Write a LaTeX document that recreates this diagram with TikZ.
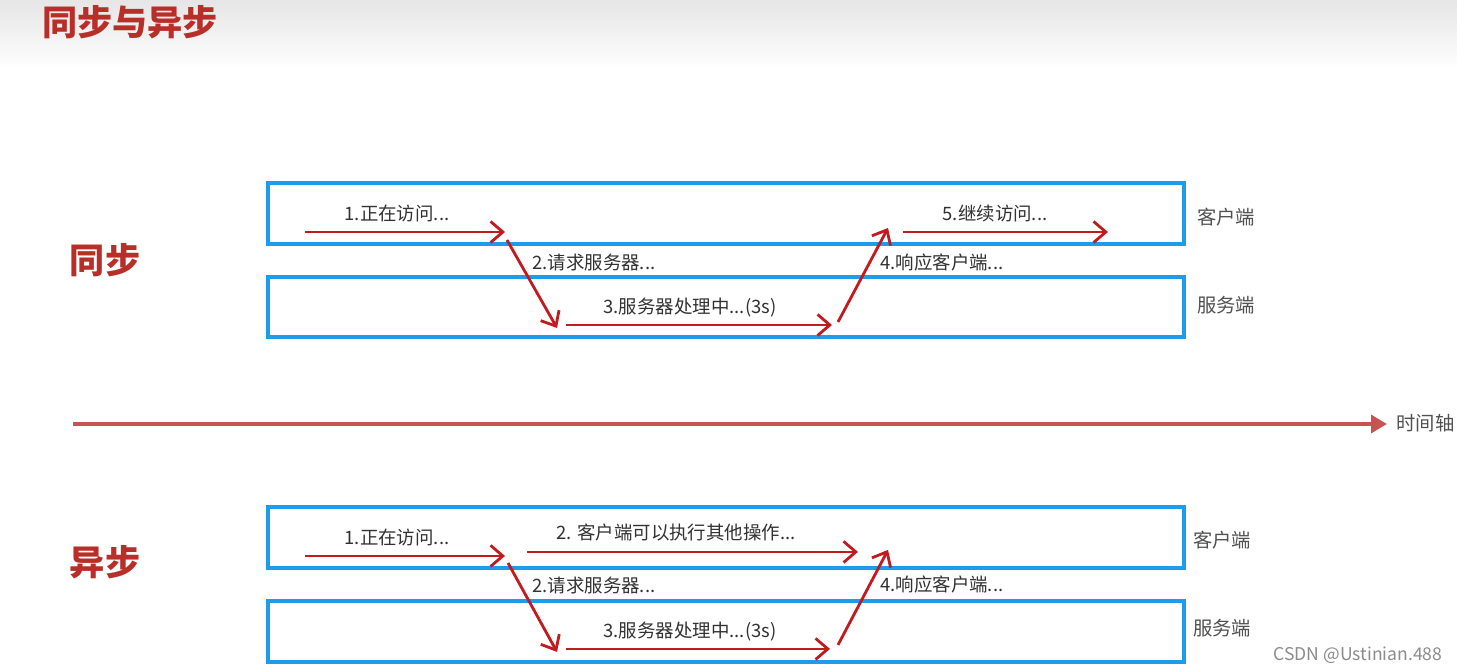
\documentclass[tikz,border=0pt]{standalone}
\usepackage{fontspec}
\setmainfont{Noto Sans CJK SC}
\usetikzlibrary{arrows.meta}

\definecolor{laneblue}{RGB}{28,156,234}
\definecolor{stepred}{RGB}{192,28,32}
\definecolor{axisred}{RGB}{200,84,82}
\definecolor{titlered}{RGB}{184,46,40}
\definecolor{textgray}{RGB}{50,50,50}

\tikzset{
  lane/.style={draw=laneblue, line width=2pt},
  flow/.style={draw=stepred, line width=1.6pt,
    -{Straight Barb[length=7pt,width=12pt,line width=1.6pt]}},
  lbl/.style={text=textgray, inner sep=0pt,
    font=\fontsize{10.5}{12}\selectfont},
  side/.style={text=textgray!85, inner sep=0pt,
    font=\fontsize{11}{13}\selectfont},
  big/.style={text=titlered, inner sep=0pt,
    font=\fontsize{20}{24}\selectfont\bfseries}
}

\begin{document}
\begin{tikzpicture}[x=0.02cm,y=-0.02cm]

\useasboundingbox (0,0) rectangle (1457,672);
\fill[white] (0,0) rectangle (1457,672);
\shade[top color=black!10, bottom color=white] (0,0) rectangle (1457,70);

% Titre
\node[big] (title) at (130,22) {同步与异步};

% Axe du temps
\coordinate (t0) at (73,424);
\coordinate (t1) at (1387,424);
\draw[draw=axisred, line width=2.4pt,
  -{Triangle[length=9pt,width=10pt]}] (t0) -- (t1);
\node[side, anchor=west] (taxis) at (1396,423) {时间轴};

% Synchrone
\node[big] (sync) at (105,260) {同步};

\draw[lane] (268,183) rectangle (1184,244);
\draw[lane] (268,277) rectangle (1184,337);
\node[side] (sclient) at (1226,217) {客户端};
\node[side] (sserver) at (1226,305) {服务端};

\coordinate (s1a) at (305,232);
\coordinate (s1b) at (505,232);
\coordinate (s2a) at (507,240);
\coordinate (s2b) at (557,328);
\coordinate (s3a) at (566,325);
\coordinate (s3b) at (832,325);
\coordinate (s4a) at (838,322);
\coordinate (s4b) at (888,228);
\coordinate (s5a) at (903,232);
\coordinate (s5b) at (1108,232);

\draw[flow] (s1a) -- (s1b);
\draw[flow] (s2a) -- (s2b);
\draw[flow] (s3a) -- (s3b);
\draw[flow] (s4a) -- (s4b);
\draw[flow] (s5a) -- (s5b);

\node[lbl] (sl1) at (397,214) {1.正在访问...};
\node[lbl, anchor=west] (sl2) at (532,262) {2.请求服务器...};
\node[lbl] (sl3) at (690,308) {3.服务器处理中...(3s)};
\node[lbl, anchor=west] (sl4) at (880,262) {4.响应客户端...};
\node[lbl] (sl5) at (995,214) {5.继续访问...};

% Asynchrone
\begin{scope}[yshift=-6.48cm]

\node[big] (async) at (105,238) {异步};

\draw[lane] (268,183) rectangle (1184,244);
\draw[lane] (268,277) rectangle (1184,338);
\node[side] (aclient) at (1222,216) {客户端};
\node[side] (aserver) at (1222,304) {服务端};

\coordinate (a1a) at (305,232);
\coordinate (a1b) at (505,232);
\coordinate (a6a) at (527,228);
\coordinate (a6b) at (858,228);
\coordinate (a2a) at (508,239);
\coordinate (a2b) at (557,328);
\coordinate (a3a) at (566,325);
\coordinate (a3b) at (830,325);
\coordinate (a4a) at (838,321);
\coordinate (a4b) at (888,226);

\draw[flow] (a1a) -- (a1b);
\draw[flow] (a6a) -- (a6b);
\draw[flow] (a2a) -- (a2b);
\draw[flow] (a3a) -- (a3b);
\draw[flow] (a4a) -- (a4b);

\node[lbl] (al1) at (397,214) {1.正在访问...};
\node[lbl] (al6) at (676,209) {2. 客户端可以执行其他操作...};
\node[lbl, anchor=west] (al2) at (532,262) {2.请求服务器...};
\node[lbl] (al3) at (690,308) {3.服务器处理中...(3s)};
\node[lbl, anchor=west] (al4) at (880,261) {4.响应客户端...};

\end{scope}

% Filigrane
\node[text=black!45, inner sep=0pt, font=\fontsize{10}{12}\selectfont]
  (mark) at (1358,655) {CSDN @Ustinian.488};

\end{tikzpicture}
\end{document}
